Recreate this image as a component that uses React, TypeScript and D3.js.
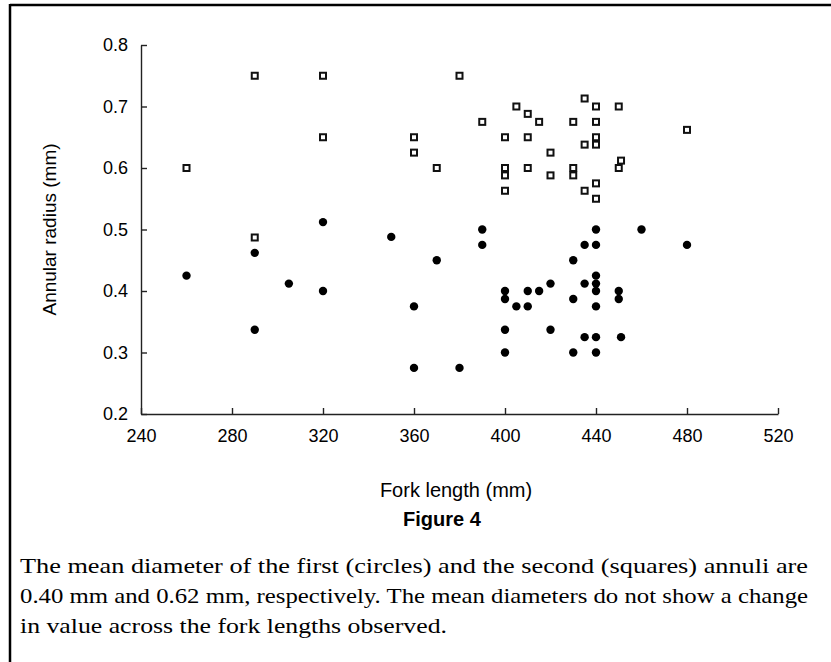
import React, { useEffect, useRef } from 'react';
import * as d3 from 'd3';

// first annulus (circles)
const circleFork = [260, 290, 290, 305, 320, 320, 350, 360, 360, 370, 380, 390, 390, 400, 400, 400, 400, 405, 410, 410, 415, 420, 420, 430, 430, 430, 435, 435, 435, 440, 440, 440, 440, 440, 440, 440, 440, 450, 450, 451, 460, 480];
const circleRadius = [0.425, 0.462, 0.337, 0.412, 0.512, 0.4, 0.488, 0.375, 0.275, 0.45, 0.275, 0.5, 0.475, 0.4, 0.387, 0.337, 0.3, 0.375, 0.4, 0.375, 0.4, 0.412, 0.337, 0.45, 0.387, 0.3, 0.475, 0.412, 0.325, 0.5, 0.475, 0.425, 0.412, 0.4, 0.375, 0.325, 0.3, 0.4, 0.387, 0.325, 0.5, 0.475];

// second annulus (squares)
const squareFork = [260, 290, 290, 320, 320, 360, 360, 370, 380, 390, 400, 400, 400, 400, 405, 410, 410, 410, 415, 420, 420, 430, 430, 430, 435, 435, 435, 440, 440, 440, 440, 440, 440, 450, 450, 451, 480];
const squareRadius = [0.6, 0.75, 0.487, 0.75, 0.65, 0.65, 0.625, 0.6, 0.75, 0.675, 0.65, 0.6, 0.588, 0.563, 0.7, 0.688, 0.65, 0.6, 0.675, 0.625, 0.588, 0.675, 0.6, 0.588, 0.713, 0.638, 0.563, 0.7, 0.675, 0.65, 0.638, 0.575, 0.55, 0.7, 0.6, 0.612, 0.662];

const xTicks = [240, 280, 320, 360, 400, 440, 480, 520];
const yTicks = [0.2, 0.3, 0.4, 0.5, 0.6, 0.7, 0.8];

const captionLines = [
  'The mean diameter of the first (circles) and the second (squares) annuli are',
  '0.40 mm and 0.62 mm, respectively. The mean diameters do not show a change',
  'in value across the fork lengths observed.',
];
const captionWidths = [788, 788, 427];

const App = () => {
  const ref = useRef<SVGSVGElement>(null);

  useEffect(() => {
    const svg = d3.select(ref.current);
    svg.selectAll('*').remove();

    const x = d3.scaleLinear().domain([240, 520]).range([141, 778]);
    const y = d3.scaleLinear().domain([0.2, 0.8]).range([414, 45]);
    const sans = '"Liberation Sans", Arial, sans-serif';

    // frame
    svg.append('line').attr('x1', 10).attr('x2', 831).attr('y1', 5).attr('y2', 5)
      .attr('stroke', '#000').attr('stroke-width', 2.5);
    svg.append('line').attr('x1', 10).attr('x2', 10).attr('y1', 4).attr('y2', 662)
      .attr('stroke', '#000').attr('stroke-width', 2.5);

    const xAxis = svg.append('g')
      .attr('transform', `translate(0,${y(0.2)})`)
      .call(d3.axisBottom(x).tickValues(xTicks).tickFormat(d3.format('d'))
        .tickSizeInner(-6).tickSizeOuter(0).tickPadding(15));
    const yAxis = svg.append('g')
      .attr('transform', `translate(${x(240)},0)`)
      .call(d3.axisLeft(y).tickValues(yTicks).tickFormat(d3.format('.1f'))
        .tickSizeInner(-6).tickSizeOuter(0).tickPadding(13));

    [xAxis, yAxis].forEach(g => {
      g.select('.domain').attr('stroke', '#222').attr('stroke-width', 1.4);
      g.selectAll('.tick line').attr('stroke', '#222').attr('stroke-width', 1.4);
      g.selectAll('.tick text').attr('fill', '#000')
        .style('font-family', sans).style('font-size', '18px');
    });

    svg.append('text')
      .attr('x', 456).attr('y', 497)
      .attr('text-anchor', 'middle')
      .style('font-family', sans).style('font-size', '20px')
      .text('Fork length (mm)');

    svg.append('text')
      .attr('transform', `translate(56,${(y(0.2) + y(0.8)) / 2}) rotate(-90)`)
      .attr('text-anchor', 'middle')
      .style('font-family', sans).style('font-size', '19px')
      .text('Annular radius (mm)');

    // squares
    const s = 6;
    svg.append('g').selectAll('rect')
      .data(squareFork.map((f, i) => [f, squareRadius[i]]))
      .enter().append('rect')
      .attr('x', d => x(d[0]) - s / 2)
      .attr('y', d => y(d[1]) - s / 2)
      .attr('width', s).attr('height', s)
      .attr('fill', '#fff').attr('stroke', '#111').attr('stroke-width', 2);

    // circles
    svg.append('g').selectAll('circle')
      .data(circleFork.map((f, i) => [f, circleRadius[i]]))
      .enter().append('circle')
      .attr('cx', d => x(d[0]))
      .attr('cy', d => y(d[1]))
      .attr('r', 4.2)
      .attr('fill', '#000');

    svg.append('text')
      .attr('x', 442).attr('y', 526)
      .attr('text-anchor', 'middle')
      .style('font-family', sans).style('font-size', '20px').style('font-weight', 'bold')
      .text('Figure 4');

    svg.append('g').selectAll('text')
      .data(captionLines)
      .enter().append('text')
      .attr('x', 20)
      .attr('y', (d, i) => 573 + i * 30)
      .attr('textLength', (d, i) => captionWidths[i])
      .attr('lengthAdjust', 'spacingAndGlyphs')
      .style('font-family', '"Liberation Serif", "Times New Roman", serif')
      .style('font-size', '22px')
      .text(d => d);
  }, []);

  return (
    <svg ref={ref} width={831} height={662}
      style={{ position: 'absolute', left: 0, top: 0, background: '#fff' }} />
  );
};

export default App;
